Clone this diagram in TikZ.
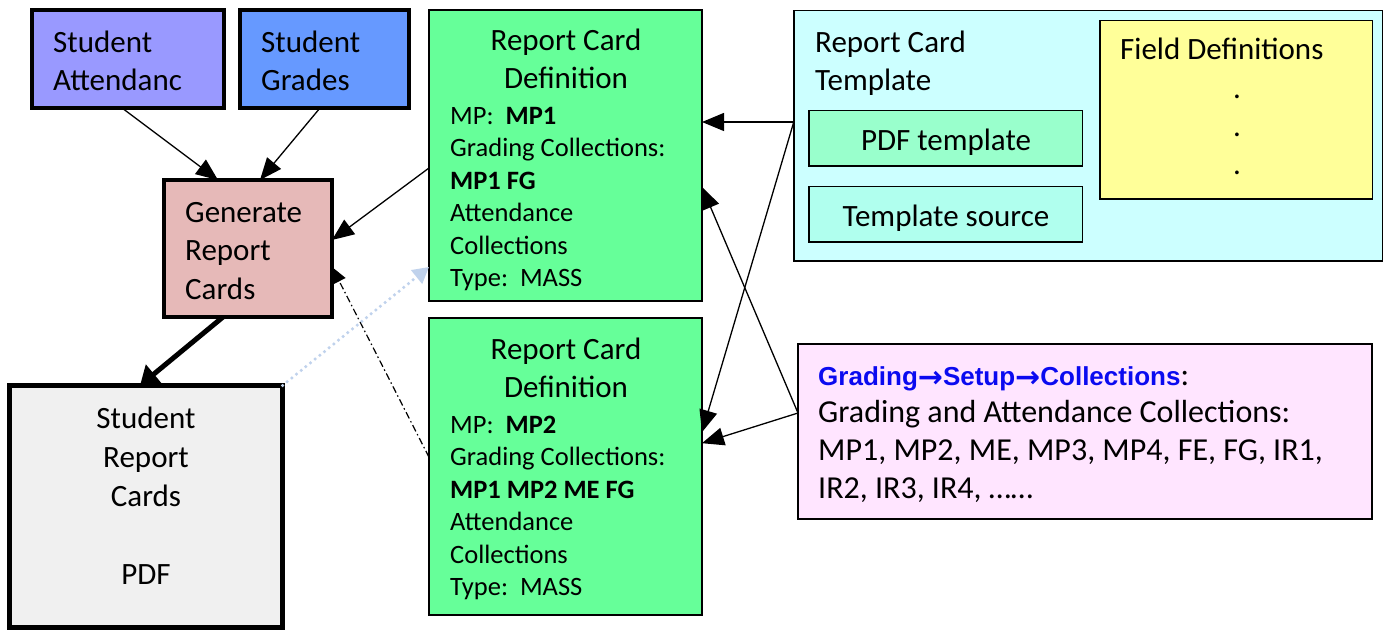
\documentclass[tikz,border=0pt]{standalone}
\usepackage{fontspec}
\setmainfont{Carlito}
\newfontfamily\arialfont{Liberation Sans}
\newfontfamily\arrowfont{DejaVu Sans}
\usetikzlibrary{arrows.meta}
\definecolor{cAtt}{HTML}{9999FF}
\definecolor{cGrd}{HTML}{6699FF}
\definecolor{cGen}{HTML}{E6B9B8}
\definecolor{cPdf}{HTML}{F0F0F0}
\definecolor{cGreen}{HTML}{66FF99}
\definecolor{cCyan}{HTML}{CCFFFF}
\definecolor{cMint}{HTML}{99FFCC}
\definecolor{cAqua}{HTML}{B0FFEE}
\definecolor{cYel}{HTML}{FFFF99}
\definecolor{cPink}{HTML}{FFE5FF}
\definecolor{cBlueTxt}{HTML}{0A0AF0}
\definecolor{cDot}{HTML}{C0D2EC}
\newcommand{\Tfont}{\fontsize{31}{38.5}\selectfont}
\newcommand{\Bfont}{\fontsize{26.5}{32.5}\selectfont}
\newcommand{\Pfont}{\fontsize{32}{37.7}\selectfont}
\newcommand{\bigarrow}{\raisebox{-2pt}{\arrowfont\bfseries\fontsize{30}{30}\selectfont →}}
\begin{document}
\begin{tikzpicture}[x=1pt,y=-1pt,
  box/.style={draw=black, anchor=north west, inner sep=0pt, outer sep=0pt},
  thickbox/.style={box, line width=4pt},
  thinbox/.style={box, line width=2pt},
  hairbox/.style={box, line width=1.5pt},
  txt/.style={inner sep=0pt, anchor=north west, align=left},
  ctxt/.style={inner sep=0pt, anchor=north, align=center},
  arr/.style={line width=1.3pt, -{Triangle[length=22pt,width=18pt]}},
  dasharr/.style={line width=1.2pt, dash pattern=on 7pt off 3pt on 1.5pt off 3pt, -{Triangle[length=16pt,width=14pt]}},
  bigarr/.style={line width=5pt, -{Triangle[length=18pt,width=24pt]}},
  dotarr/.style={draw=cDot, line width=3.5pt, line cap=round, dash pattern=on 0pt off 6pt, -{Triangle[length=16pt,width=17pt,fill=cDot]}}
]
\useasboundingbox (0,0) rectangle (1385,631);

% boxes
\node[thickbox, fill=cAtt, minimum width=192pt, minimum height=98pt] (att) at (32,10) {};
\node[thickbox, fill=cGrd, minimum width=169pt, minimum height=98pt] (grd) at (239.5,10) {};
\node[thickbox, fill=cGen, minimum width=168pt, minimum height=137pt] (gen) at (164,180) {};
\node[box, line width=5pt, fill=cPdf, minimum width=273pt, minimum height=242pt] (pdf) at (9.5,385.5) {};
\node[thinbox, fill=cGreen, minimum width=273pt, minimum height=291pt] (g1) at (429,10) {};
\node[thinbox, fill=cGreen, minimum width=273pt, minimum height=297pt] (g2) at (429,317.7) {};
\node[hairbox, fill=cCyan, minimum width=588.5pt, minimum height=250.5pt] (cyan) at (793.75,10.75) {};
\node[hairbox, fill=cMint, minimum width=273.5pt, minimum height=55.5pt] (tpl) at (808.75,110.75) {};
\node[hairbox, fill=cAqua, minimum width=273.5pt, minimum height=55.5pt] (src) at (808.75,186.75) {};
\node[hairbox, fill=cYel, minimum width=272.5pt, minimum height=178.5pt] (fld) at (1099.75,20.75) {};
\node[thinbox, fill=cPink, minimum width=574pt, minimum height=175pt] (pink) at (798,344) {};

% texts
\node[txt, font=\Tfont] (attT) at (53,25) {\strut Student\\Attendanc};
\node[txt, font=\Tfont] (grdT) at (261,25) {\strut Student\\Grades};
\node[txt, font=\Tfont] (genT) at (185,195) {\strut Generate\\Report\\Cards};
\node[ctxt, font=\fontsize{31}{39}\selectfont] (pdfT) at (146,400.7) {\strut Student\\Report\\Cards\\[39pt]PDF};

\node[ctxt, font=\Tfont] (g1T) at (566,23) {\strut Report Card\\Definition};
\node[txt, font=\Bfont] (g1B) at (450,101.25) {\strut MP:\ \ \textbf{MP1}\\Grading Collections:\\\textbf{MP1 FG}\\Attendance\\Collections\\Type:\ \ MASS};
\node[ctxt, font=\Tfont] (g2T) at (566,332) {\strut Report Card\\Definition};
\node[txt, font=\Bfont] (g2B) at (450,410.25) {\strut MP:\ \ \textbf{MP2}\\Grading Collections:\\\textbf{MP1 MP2 ME FG}\\Attendance\\Collections\\Type:\ \ MASS};

\node[txt, font=\Tfont] (cyanT) at (815,25) {\strut Report Card\\Template};
\node[inner sep=0pt, anchor=base, font=\Tfont] (tplT) at (946,151) {PDF template};
\node[inner sep=0pt, anchor=base, font=\Tfont] (srcT) at (946,227) {Template source};
\node[inner sep=0pt, anchor=base west, font=\Tfont] (fldT) at (1120,60) {Field Definitions};
\node[inner sep=0pt, anchor=base, font=\Tfont] (d1) at (1237,99) {.};
\node[inner sep=0pt, anchor=base, font=\Tfont] (d2) at (1237,137) {.};
\node[inner sep=0pt, anchor=base, font=\Tfont] (d3) at (1237,175) {.};

\node[txt, font=\Pfont] (pinkT) at (818,358.6) {\strut{\arialfont\bfseries\fontsize{26}{37.7}\selectfont\color{cBlueTxt}Grading\bigarrow Setup\bigarrow Collections}:\\Grading and Attendance Collections:\\MP1, MP2, ME, MP3, MP4, FE, FG, IR1,\\IR2, IR3, IR4, ……};

% connectors
\draw[arr] ([xshift=-6pt]att.south) -- ([xshift=-30pt]gen.north);
\draw[arr] ([xshift=-4pt]grd.south) -- ([xshift=12pt]gen.north);
\draw[arr] ([yshift=-12.5pt]g1.west) -- ([yshift=8.5pt]gen.east);
\draw[dasharr] ([yshift=9pt]g2.west) -- ([yshift=-18.5pt]gen.east);
\draw[bigarr] ([xshift=-25pt]gen.south) -- ([xshift=-6pt]pdf.north);
\draw[dotarr] (pdf.north east) -- ([yshift=-111.5pt]g1.west);
\draw[arr] ([yshift=14pt]cyan.west) -- ([yshift=33.5pt]g1.east);
\draw[arr] ([yshift=14pt]cyan.west) -- ([yshift=34pt]g2.east);
\draw[arr] ([yshift=18.5pt]pink.west) -- ([yshift=-31.5pt]g1.east);
\draw[arr] ([yshift=18.5pt]pink.west) -- ([yshift=23pt]g2.east);
\end{tikzpicture}
\end{document}
